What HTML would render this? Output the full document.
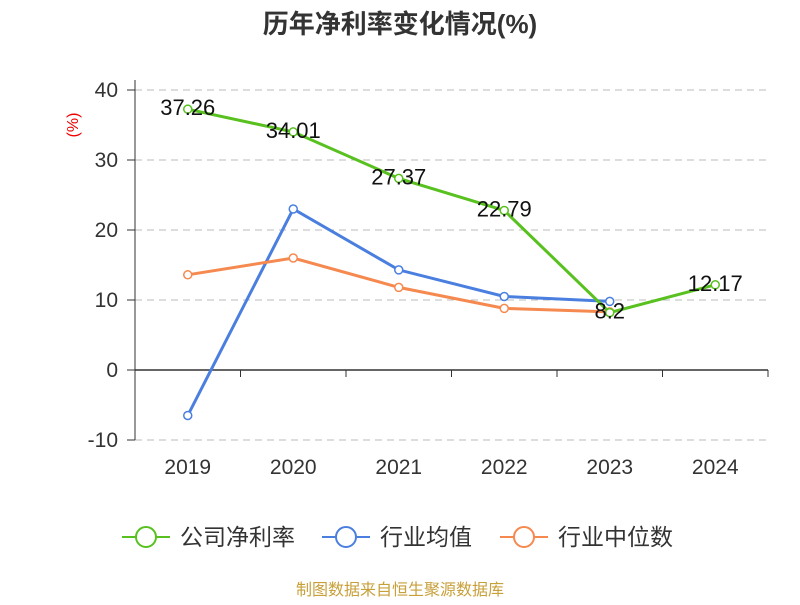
<!DOCTYPE html>
<html><head><meta charset="utf-8"><style>
body{margin:0;background:#fff;font-family:"Liberation Sans","Noto Sans CJK SC",sans-serif}
</style></head><body>
<svg width="800" height="600" xmlns="http://www.w3.org/2000/svg" id="chart">
<text x="400" y="33" text-anchor="middle" font-size="26" font-weight="bold" fill="#333">历年净利率变化情况(%)</text>
<text x="78" y="125" fill="#e00" font-size="16" transform="rotate(-90 78 125)" text-anchor="middle">(%)</text>
<g id="grid"></g><g id="series"></g>
<text x="400" y="595" text-anchor="middle" font-size="16" fill="#c8a03a">制图数据来自恒生聚源数据库</text>
</svg>
<script>
const categories=["2019","2020","2021","2022","2023","2024"];
const yTicks=[40,30,20,10,0,-10];
const companyVals=[37.26,34.01,27.37,22.79,8.2,12.17];
const industryAvg=[-6.5,23,14.3,10.5,9.8,null];
const industryMed=[13.6,16,11.8,8.8,8.3,null];
const NS="http://www.w3.org/2000/svg";
const x0=135,x1=768,bw=(x1-x0)/categories.length;
const xs=i=>x0+bw*(i+0.5), ys=v=>370-v*7;
const grid=document.getElementById('grid'),ser=document.getElementById('series');
function mk(tag,attrs,parent){const e=document.createElementNS(NS,tag);for(const k in attrs)e.setAttribute(k,attrs[k]);parent.appendChild(e);return e;}
yTicks.forEach(t=>{
 const y=ys(t);
 if(t!==0){const l=mk('line',{x1:x0,x2:x1,y1:y,y2:y,stroke:'#bbb','stroke-dasharray':'7,5'},grid);
 
 }
 const tx=mk('text',{x:x0-17,y:y+7,'text-anchor':'end','font-size':21,fill:'#333'},grid);tx.textContent=t;
 
 
 const tk=mk('line',{x1:x0-8,x2:x0,y1:y,y2:y,stroke:'#333'},grid);
 
 
});
const ya=mk('line',{x1:x0,x2:x0,y1:ys(40)-10,y2:ys(-10),stroke:'#333'},grid);


const xa=mk('line',{x1:x0,x2:x1,y1:370,y2:370,stroke:'#333','stroke-width':1.5},grid);


for(let i=0;i<=categories.length;i++){const t=mk('line',{x1:x0+bw*i,x2:x0+bw*i,y1:370,y2:377,stroke:'#333'},grid);
 
 }
categories.forEach((c,i)=>{const t=mk('text',{x:xs(i),y:474,'text-anchor':'middle','font-size':21,fill:'#333'},grid);t.textContent=c;
 
 });
function line(vals,color,name,labels){
 const pts=vals.map((v,i)=>v==null?null:[xs(i),ys(v)]).filter(p=>p);
 const p=mk('polyline',{points:pts.map(p=>p.join(',')).join(' '),fill:'none',stroke:color,'stroke-width':3},ser);
 
 
 vals.forEach((v,i)=>{if(v==null)return;
  const c=mk('circle',{cx:xs(i),cy:ys(v),r:4,fill:'#fff',stroke:color,'stroke-width':1.5},ser);
  
  
  if(labels){const t=mk('text',{x:xs(i),y:ys(v)+6,'text-anchor':'middle','font-size':22,fill:'#111'},ser);t.textContent=v;
  
  }
 });
}
line(industryAvg,'#4a7fe0','industry-average',false);
line(industryMed,'#f5894f','industry-median',false);
line(companyVals,'#58c11f','company-net-margin',true);
const legend=[["公司净利率",'#58c11f',122],["行业均值",'#4a7fe0',322],["行业中位数",'#f5894f',500]];
legend.forEach(([n,c,x])=>{
 const g=mk('g',{},ser);
 
 
 mk('line',{x1:x,x2:x+48,y1:537,y2:537,stroke:c,'stroke-width':2},g);
 mk('circle',{cx:x+24,cy:537,r:10,fill:'#fff',stroke:c,'stroke-width':2},g);
 const t=mk('text',{x:x+58,y:545,'font-size':23,fill:'#333'},g);t.textContent=n;
});
</script>
</body></html>
